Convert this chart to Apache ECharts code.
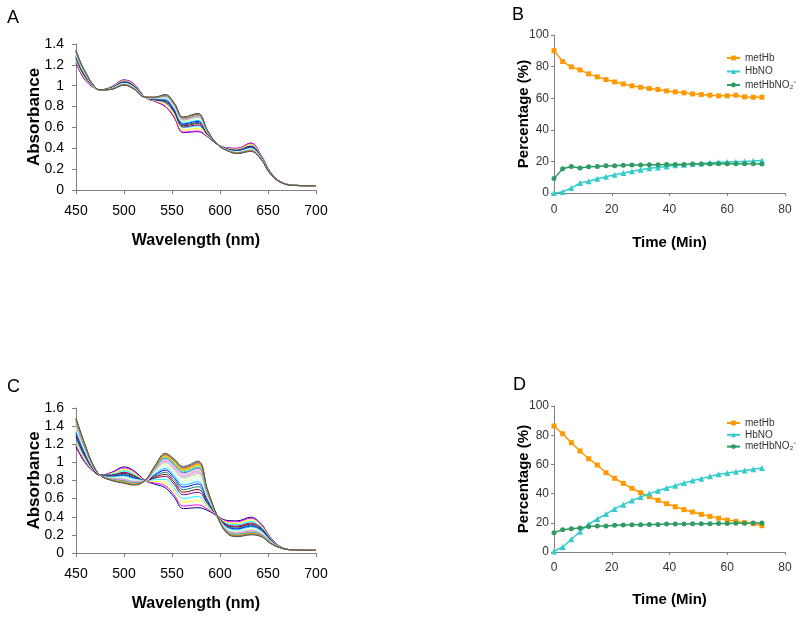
<!DOCTYPE html>
<html>
<head>
<meta charset="utf-8">
<script src="https://cdn.jsdelivr.net/npm/echarts@6/dist/echarts.min.js"></script>
<style>
html,body{margin:0;padding:0;background:#fff;}
#chart{width:800px;height:621px;}
</style>
</head>
<body>
<div id="chart"></div>
<script>
// ---------- data ----------
const wavelengths = [450,455,460,467,475,487,500,510,522,532,543,552,562,577,587,597,607,618,632,643,652,662,675,700];

const spectraA = [
[1.22,1.12,1.05,0.99,0.96,0.99,1.055,1.02,0.89,0.85,0.80,0.70,0.55,0.56,0.51,0.44,0.405,0.40,0.45,0.33,0.18,0.085,0.048,0.04],
[1.224,1.123,1.052,0.991,0.96,0.989,1.054,1.019,0.89,0.851,0.803,0.704,0.555,0.565,0.512,0.44,0.404,0.399,0.448,0.329,0.18,0.085,0.048,0.04],
[1.239,1.136,1.063,0.995,0.96,0.986,1.047,1.012,0.89,0.856,0.818,0.722,0.574,0.588,0.52,0.44,0.401,0.392,0.437,0.324,0.177,0.084,0.048,0.04],
[1.257,1.151,1.075,0.999,0.96,0.982,1.04,1.005,0.89,0.862,0.836,0.743,0.597,0.614,0.529,0.44,0.397,0.385,0.425,0.318,0.174,0.083,0.047,0.04],
[1.263,1.156,1.079,1.001,0.96,0.981,1.037,1.002,0.89,0.864,0.841,0.75,0.604,0.623,0.532,0.44,0.396,0.382,0.421,0.316,0.173,0.083,0.047,0.04],
[1.273,1.164,1.085,1.003,0.96,0.979,1.033,0.998,0.89,0.868,0.851,0.762,0.616,0.637,0.536,0.44,0.394,0.378,0.415,0.312,0.171,0.083,0.047,0.04],
[1.28,1.17,1.09,1.005,0.96,0.978,1.03,0.995,0.89,0.87,0.858,0.77,0.625,0.648,0.54,0.44,0.393,0.375,0.41,0.31,0.17,0.083,0.047,0.04],
[1.287,1.176,1.095,1.007,0.96,0.976,1.027,0.992,0.89,0.872,0.864,0.778,0.634,0.658,0.544,0.44,0.391,0.372,0.405,0.308,0.169,0.082,0.046,0.04],
[1.293,1.181,1.099,1.008,0.96,0.975,1.025,0.99,0.89,0.874,0.87,0.785,0.642,0.667,0.547,0.44,0.39,0.37,0.401,0.306,0.168,0.082,0.046,0.04],
[1.30,1.187,1.104,1.01,0.96,0.973,1.022,0.987,0.89,0.877,0.877,0.794,0.651,0.677,0.55,0.44,0.388,0.367,0.396,0.303,0.167,0.082,0.046,0.04],
[1.305,1.191,1.107,1.011,0.96,0.972,1.02,0.985,0.89,0.878,0.882,0.799,0.657,0.684,0.553,0.44,0.387,0.365,0.393,0.302,0.166,0.081,0.046,0.04],
[1.311,1.196,1.111,1.013,0.96,0.971,1.017,0.982,0.89,0.88,0.887,0.806,0.664,0.693,0.556,0.44,0.386,0.362,0.389,0.30,0.165,0.081,0.046,0.04],
[1.315,1.199,1.113,1.014,0.96,0.97,1.016,0.981,0.89,0.882,0.891,0.811,0.669,0.698,0.557,0.44,0.385,0.36,0.387,0.298,0.164,0.081,0.046,0.04],
[1.318,1.202,1.116,1.015,0.96,0.97,1.014,0.979,0.89,0.883,0.894,0.815,0.673,0.704,0.559,0.44,0.385,0.359,0.384,0.297,0.164,0.081,0.046,0.04],
[1.322,1.205,1.118,1.016,0.96,0.969,1.013,0.978,0.89,0.884,0.898,0.819,0.678,0.709,0.561,0.44,0.384,0.358,0.382,0.296,0.163,0.081,0.045,0.04],
[1.324,1.207,1.12,1.016,0.96,0.968,1.012,0.977,0.89,0.885,0.90,0.822,0.681,0.712,0.562,0.44,0.383,0.357,0.38,0.295,0.163,0.081,0.045,0.04],
[1.327,1.209,1.121,1.017,0.96,0.968,1.011,0.976,0.89,0.886,0.902,0.825,0.684,0.716,0.563,0.44,0.383,0.356,0.379,0.294,0.162,0.081,0.045,0.04],
[1.329,1.211,1.123,1.017,0.96,0.967,1.01,0.975,0.89,0.886,0.905,0.827,0.687,0.719,0.565,0.44,0.382,0.355,0.377,0.294,0.162,0.08,0.045,0.04],
[1.332,1.213,1.124,1.018,0.96,0.967,1.009,0.974,0.89,0.887,0.907,0.83,0.69,0.723,0.566,0.44,0.382,0.354,0.376,0.293,0.161,0.08,0.045,0.04],
[1.333,1.214,1.125,1.018,0.96,0.967,1.008,0.973,0.89,0.888,0.908,0.832,0.691,0.725,0.566,0.44,0.382,0.353,0.375,0.292,0.161,0.08,0.045,0.04],
[1.334,1.215,1.126,1.019,0.96,0.966,1.008,0.973,0.89,0.888,0.909,0.833,0.693,0.726,0.567,0.44,0.381,0.353,0.374,0.292,0.161,0.08,0.045,0.04],
[1.335,1.216,1.127,1.019,0.96,0.966,1.007,0.972,0.89,0.888,0.91,0.834,0.694,0.728,0.568,0.44,0.381,0.352,0.373,0.292,0.161,0.08,0.045,0.04],
[1.336,1.217,1.128,1.019,0.96,0.966,1.007,0.972,0.89,0.889,0.912,0.836,0.696,0.73,0.568,0.44,0.381,0.352,0.372,0.291,0.16,0.08,0.045,0.04],
[1.338,1.218,1.128,1.019,0.96,0.966,1.006,0.971,0.89,0.889,0.913,0.837,0.697,0.732,0.569,0.44,0.381,0.351,0.372,0.291,0.16,0.08,0.045,0.04],
[1.34,1.22,1.13,1.02,0.96,0.965,1.005,0.97,0.89,0.89,0.915,0.84,0.70,0.735,0.57,0.44,0.38,0.35,0.37,0.29,0.16,0.08,0.045,0.04]
];

const spectraC = [
[1.17,1.07,0.99,0.91,0.86,0.89,0.95,0.91,0.80,0.76,0.72,0.62,0.49,0.50,0.47,0.41,0.36,0.355,0.395,0.32,0.18,0.075,0.035,0.03],
[1.189,1.086,1.001,0.915,0.86,0.885,0.939,0.90,0.80,0.772,0.743,0.645,0.518,0.531,0.484,0.41,0.352,0.344,0.383,0.312,0.176,0.074,0.035,0.03],
[1.218,1.109,1.019,0.922,0.86,0.876,0.923,0.886,0.80,0.79,0.777,0.683,0.56,0.577,0.505,0.41,0.339,0.329,0.366,0.299,0.169,0.073,0.035,0.03],
[1.247,1.132,1.036,0.929,0.86,0.868,0.907,0.872,0.80,0.808,0.811,0.721,0.602,0.624,0.525,0.41,0.326,0.313,0.348,0.286,0.163,0.071,0.035,0.03],
[1.276,1.156,1.053,0.936,0.86,0.86,0.891,0.857,0.80,0.826,0.845,0.759,0.643,0.67,0.546,0.41,0.314,0.297,0.331,0.274,0.157,0.07,0.035,0.03],
[1.295,1.171,1.064,0.941,0.86,0.855,0.88,0.848,0.80,0.838,0.868,0.784,0.671,0.701,0.56,0.41,0.305,0.287,0.319,0.265,0.153,0.069,0.035,0.03],
[1.314,1.187,1.076,0.946,0.86,0.849,0.869,0.838,0.80,0.85,0.891,0.809,0.699,0.732,0.574,0.41,0.297,0.276,0.307,0.257,0.148,0.068,0.035,0.03],
[1.333,1.203,1.087,0.951,0.86,0.844,0.858,0.828,0.80,0.862,0.914,0.834,0.727,0.763,0.587,0.41,0.289,0.266,0.296,0.249,0.144,0.067,0.035,0.03],
[1.349,1.216,1.096,0.955,0.86,0.84,0.849,0.82,0.80,0.872,0.933,0.855,0.75,0.788,0.599,0.41,0.282,0.257,0.286,0.242,0.141,0.067,0.035,0.03],
[1.365,1.229,1.106,0.959,0.86,0.835,0.84,0.812,0.80,0.882,0.952,0.876,0.774,0.814,0.61,0.41,0.275,0.248,0.276,0.235,0.137,0.066,0.035,0.03],
[1.381,1.242,1.115,0.963,0.86,0.831,0.831,0.804,0.80,0.892,0.971,0.897,0.797,0.84,0.622,0.41,0.268,0.239,0.266,0.228,0.134,0.065,0.035,0.03],
[1.394,1.252,1.123,0.966,0.86,0.827,0.824,0.798,0.80,0.90,0.986,0.914,0.816,0.861,0.631,0.41,0.262,0.232,0.258,0.222,0.131,0.064,0.035,0.03],
[1.404,1.26,1.129,0.968,0.86,0.824,0.819,0.793,0.80,0.906,0.997,0.927,0.829,0.876,0.638,0.41,0.258,0.227,0.253,0.218,0.129,0.064,0.035,0.03],
[1.413,1.268,1.134,0.971,0.86,0.822,0.813,0.788,0.80,0.912,1.009,0.939,0.843,0.891,0.645,0.41,0.254,0.222,0.247,0.214,0.127,0.064,0.035,0.03],
[1.423,1.275,1.14,0.973,0.86,0.819,0.808,0.784,0.80,0.918,1.02,0.952,0.857,0.907,0.652,0.41,0.249,0.217,0.241,0.209,0.125,0.063,0.035,0.03],
[1.432,1.283,1.146,0.976,0.86,0.816,0.802,0.779,0.80,0.924,1.032,0.964,0.871,0.922,0.659,0.41,0.245,0.211,0.235,0.205,0.123,0.063,0.035,0.03],
[1.442,1.291,1.152,0.978,0.86,0.813,0.797,0.774,0.80,0.93,1.043,0.977,0.885,0.938,0.666,0.41,0.241,0.206,0.229,0.201,0.12,0.062,0.035,0.03],
[1.448,1.296,1.155,0.98,0.86,0.812,0.793,0.771,0.80,0.934,1.051,0.985,0.895,0.948,0.67,0.41,0.238,0.203,0.225,0.198,0.119,0.062,0.035,0.03],
[1.458,1.304,1.161,0.982,0.86,0.809,0.788,0.766,0.80,0.94,1.062,0.998,0.909,0.964,0.677,0.41,0.234,0.197,0.219,0.194,0.117,0.061,0.035,0.03],
[1.468,1.312,1.167,0.984,0.86,0.806,0.783,0.761,0.80,0.946,1.073,1.011,0.922,0.979,0.684,0.41,0.23,0.192,0.214,0.19,0.115,0.061,0.035,0.03],
[1.471,1.314,1.169,0.985,0.86,0.805,0.781,0.76,0.80,0.948,1.077,1.015,0.927,0.984,0.686,0.41,0.228,0.19,0.212,0.188,0.114,0.061,0.035,0.03],
[1.477,1.32,1.172,0.987,0.86,0.804,0.777,0.756,0.80,0.952,1.085,1.023,0.936,0.994,0.691,0.41,0.226,0.187,0.208,0.186,0.113,0.061,0.035,0.03],
[1.48,1.322,1.174,0.988,0.86,0.803,0.775,0.755,0.80,0.954,1.089,1.027,0.941,0.999,0.693,0.41,0.224,0.185,0.206,0.184,0.112,0.06,0.035,0.03],
[1.484,1.325,1.176,0.988,0.86,0.802,0.774,0.753,0.80,0.956,1.092,1.032,0.946,1.005,0.695,0.41,0.223,0.184,0.204,0.183,0.111,0.06,0.035,0.03],
[1.49,1.33,1.18,0.99,0.86,0.80,0.77,0.75,0.80,0.96,1.10,1.04,0.955,1.015,0.70,0.41,0.22,0.18,0.20,0.18,0.11,0.06,0.035,0.03]
];

const times = [0,3,6,9,12,15,18,21,24,27,30,33,36,39,42,45,48,51,54,57,60,63,66,69,72];

const metHbB   = [90.1,83.2,79.8,77.9,75.4,73.5,71.8,70.3,69.0,67.8,66.9,66.1,65.5,64.6,64.0,63.4,62.7,62.3,61.9,61.5,61.5,61.9,60.8,60.6,60.6];
const hbnoB    = [0,0.6,3.2,6.3,7.4,9.0,10.3,11.6,12.6,13.7,14.7,15.6,16.2,16.8,17.5,17.9,18.3,18.7,19.2,19.4,19.6,19.8,20.0,20.2,20.6];
const nitriteB = [9.1,15.4,16.8,15.8,16.6,16.8,17.3,17.3,17.5,17.7,17.7,17.9,17.9,18.0,18.1,18.1,18.3,18.3,18.3,18.5,18.5,18.5,18.5,18.5,18.3];

const metHbD   = [86.3,81.0,74.9,69.2,63.9,59.6,54.3,50.5,47.0,43.6,40.6,37.9,35.4,33.1,31.0,29.0,27.4,25.8,24.4,23.1,21.9,21.0,20.1,19.4,18.0];
const hbnoD    = [0.5,3.4,8.7,13.9,19.0,22.6,26.0,29.5,32.4,35.2,37.7,40.0,42.0,43.8,45.4,47.3,48.9,50.2,51.8,53.2,54.1,55.0,55.9,56.6,57.5];
const nitriteD = [13.2,15.3,16.0,16.4,17.4,17.8,17.8,18.3,18.5,18.6,18.7,18.8,18.9,19.1,19.1,19.2,19.3,19.3,19.4,19.5,19.6,19.7,19.7,19.8,19.9];

const seriesNames = ['metHb','HbNO','metHbNO\u2082\u207B'];
const panelLetters = ['A','B','C','D'];

// Excel default series palette
const excelColors = ['#000080','#FF00FF','#FFFF00','#00FFFF','#800080','#800000','#008080','#0000FF',
  '#00CCFF','#CCFFFF','#CCFFCC','#FFFF99','#99CCFF','#FF99CC','#CC99FF','#FFCC99',
  '#3366FF','#33CCCC','#99CC00','#FFCC00','#FF9900','#FF6600','#666699','#969696','#555548'];
const kinColors = ['#FF9900','#33CCCC','#2E9A64'];
const kinSymbols = ['rect','triangle','circle'];

// ---------- chart ----------
const FONT = '"Liberation Sans", Arial, sans-serif';
const chart = echarts.init(document.getElementById('chart'), null, {renderer:'canvas'});

const grids = [
  {left:76, top:44, width:240, height:146},
  {left:554, top:35, width:231, height:158},
  {left:76, top:408, width:240, height:145},
  {left:554, top:406, width:231, height:146}
];

function specX(g, gap){
  return {
    gridIndex:g, type:'value', min:450, max:700, interval:50,
    axisLine:{show:true, lineStyle:{color:'#808080', width:1}},
    axisTick:{show:true, length:4, lineStyle:{color:'#808080'}},
    axisLabel:{color:'#000', fontSize:14, fontFamily:FONT, margin:14},
    splitLine:{show:false},
    name:'Wavelength (nm)', nameLocation:'middle', nameGap:gap, nameMoveOverlap:false,
    nameTextStyle:{color:'#000', fontSize:16, fontWeight:'bold', fontFamily:FONT}
  };
}
function specY(g, max){
  return {
    gridIndex:g, type:'value', min:0, max:max, interval:0.2,
    axisLine:{show:true, lineStyle:{color:'#808080', width:1}},
    axisTick:{show:true, length:4, lineStyle:{color:'#808080'}},
    axisLabel:{color:'#000', fontSize:14, fontFamily:FONT, margin:12},
    splitLine:{show:false},
    name:'Absorbance', nameLocation:'middle', nameGap:33, nameMoveOverlap:false,
    nameTextStyle:{color:'#000', fontSize:17, fontWeight:'bold', fontFamily:FONT}
  };
}
function kinX(g, gap, margin){
  return {
    gridIndex:g, type:'value', min:0, max:80, interval:20,
    axisLine:{show:true, lineStyle:{color:'#808080', width:1}},
    axisTick:{show:true, length:3, lineStyle:{color:'#808080'}},
    axisLabel:{color:'#333', fontSize:12, fontFamily:FONT, margin:margin},
    splitLine:{show:false},
    name:'Time (Min)', nameLocation:'middle', nameGap:gap, nameMoveOverlap:false,
    nameTextStyle:{color:'#000', fontSize:15, fontWeight:'bold', fontFamily:FONT}
  };
}
function kinY(g){
  return {
    gridIndex:g, type:'value', min:0, max:100, interval:20,
    axisLine:{show:true, lineStyle:{color:'#808080', width:1}},
    axisTick:{show:true, length:3, lineStyle:{color:'#808080'}},
    axisLabel:{color:'#333', fontSize:12, fontFamily:FONT, margin:5},
    splitLine:{show:false},
    name:'Percentage (%)', nameLocation:'middle', nameGap:23, nameMoveOverlap:false,
    nameTextStyle:{color:'#000', fontSize:15, fontWeight:'bold', fontFamily:FONT}
  };
}

const series = [];
spectraA.forEach((row,i)=>{
  series.push({type:'line', xAxisIndex:0, yAxisIndex:0, silent:true, showSymbol:false, smooth:0.4,
    data: row.map((v,j)=>[wavelengths[j], v]),
    lineStyle:{width:1, color:excelColors[i]}, z:2});
});
spectraC.forEach((row,i)=>{
  series.push({type:'line', xAxisIndex:2, yAxisIndex:2, silent:true, showSymbol:false, smooth:0.4,
    data: row.map((v,j)=>[wavelengths[j], v]),
    lineStyle:{width:1, color:excelColors[i]}, z:2});
});
const kinB = [metHbB, hbnoB, nitriteB];
const kinD = [metHbD, hbnoD, nitriteD];
[[kinB,1],[kinD,3]].forEach(([sets,ax])=>{
  sets.forEach((vals,k)=>{
    series.push({type:'line', name:seriesNames[k], xAxisIndex:ax, yAxisIndex:ax,
      data: vals.map((v,i)=>[times[i], v]),
      symbol:kinSymbols[k], symbolSize: k===1?6:5, showSymbol:true,
      lineStyle:{width:1.5, color:kinColors[k]},
      itemStyle:{color:kinColors[k]}, z:3});
  });
});

const letterPos = [[7,9],[512,6],[7,378],[513,376]];

const option = {
  animation:false,
  backgroundColor:'#fff',
  title: panelLetters.map((t,i)=>({text:t, left:letterPos[i][0], top:letterPos[i][1], padding:0,
    textStyle:{fontSize:18, fontWeight:'normal', color:'#000', fontFamily:FONT}})),
  grid: grids,
  xAxis: [specX(0,43), kinX(1,42,11), specX(2,43), kinX(3,40,10)],
  yAxis: [specY(0,1.4), kinY(1), specY(2,1.6), kinY(3)],
  legend: [
    {orient:'vertical', left:726, top:53, itemGap:3.5, itemWidth:13, itemHeight:6, padding:0,
     data:seriesNames, textStyle:{fontSize:10, color:'#333', fontFamily:FONT}, selectedMode:false},
    {orient:'vertical', left:726, top:418, itemGap:1.8, itemWidth:13, itemHeight:6, padding:0,
     data:seriesNames, textStyle:{fontSize:10, color:'#333', fontFamily:FONT}, selectedMode:false}
  ],
  series: series
};
chart.setOption(option);
</script>
</body>
</html>
